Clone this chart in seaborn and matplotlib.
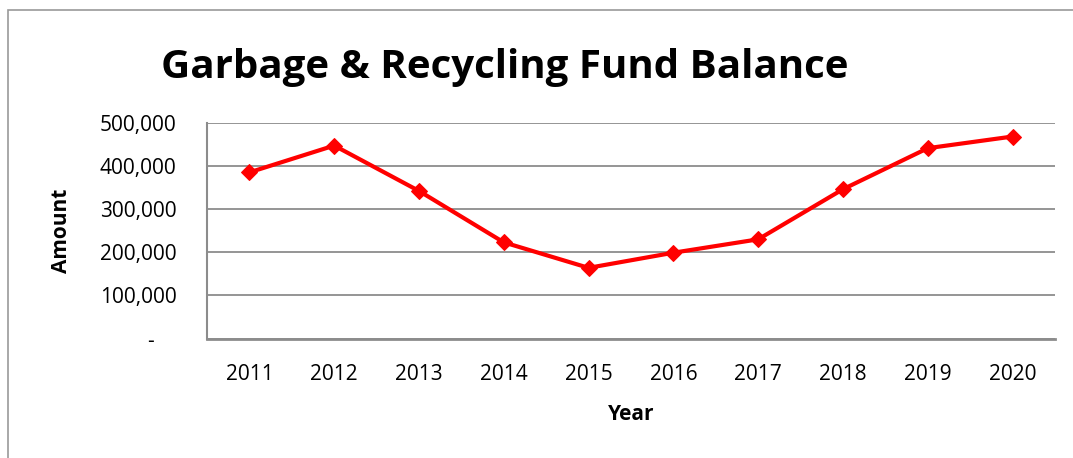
import matplotlib
matplotlib.use("Agg")
import matplotlib.pyplot as plt
import matplotlib.ticker as mticker
from matplotlib.patches import Rectangle
import pandas as pd
import seaborn as sns

years = ["2011", "2012", "2013", "2014", "2015", "2016", "2017", "2018", "2019", "2020"]
balance = [385000, 447000, 342000, 223000, 164000, 199000, 230000, 346000, 441000, 468000]
y_ticks = [0, 100000, 200000, 300000, 400000, 500000]

df = pd.DataFrame({"Year": years, "Amount": balance})

sns.set_style("white")
plt.rcParams["font.family"] = ["Open Sans", "DejaVu Sans"]
plt.rcParams["text.color"] = "black"
plt.rcParams["axes.labelcolor"] = "black"
plt.rcParams["xtick.labelcolor"] = "black"
plt.rcParams["ytick.labelcolor"] = "black"

fig = plt.figure(figsize=(10.73, 4.58), dpi=100)
ax = fig.add_axes([0.1929, 0.2605, 0.7903, 0.4716])

sns.lineplot(data=df, x="Year", y="Amount", ax=ax, sort=False, color="#ff0000",
             linewidth=3, marker="D", markersize=8, markeredgecolor="#ff0000")

ax.set_xlim(-0.5, len(years) - 0.5)
ax.set_ylim(0, 500000)
ax.set_yticks(y_ticks)
ax.yaxis.set_major_formatter(mticker.FuncFormatter(
    lambda v, p: "-    " if v == 0 else f"{int(v):,}"))
ax.grid(axis="y", color="#8c8c8c", linewidth=1.3)
ax.set_axisbelow(True)

for s in ["top", "right"]:
    ax.spines[s].set_visible(False)
ax.spines["left"].set_color("#8c8c8c")
ax.spines["left"].set_linewidth(1.5)
ax.spines["bottom"].set_color("#8c8c8c")
ax.spines["bottom"].set_linewidth(2)

ax.tick_params(axis="y", length=8, width=1.3, color="#8c8c8c", labelsize=15, pad=14)
ax.tick_params(axis="x", length=0, labelsize=15, pad=18)

ax.set_xlabel("Year", fontsize=15, fontweight="bold", labelpad=14)
ax.set_ylabel("Amount", fontsize=15, fontweight="bold", labelpad=20)

fig.text(0.470, 0.853, "Garbage & Recycling Fund Balance", fontsize=29,
         fontweight="bold", ha="center", va="center")

fig.patches.append(Rectangle((0.0075, -0.1), 1.1, 1.078, transform=fig.transFigure,
                             fill=False, edgecolor="#9a9a9a", linewidth=1.2))

fig.savefig("out.png", dpi=100)
